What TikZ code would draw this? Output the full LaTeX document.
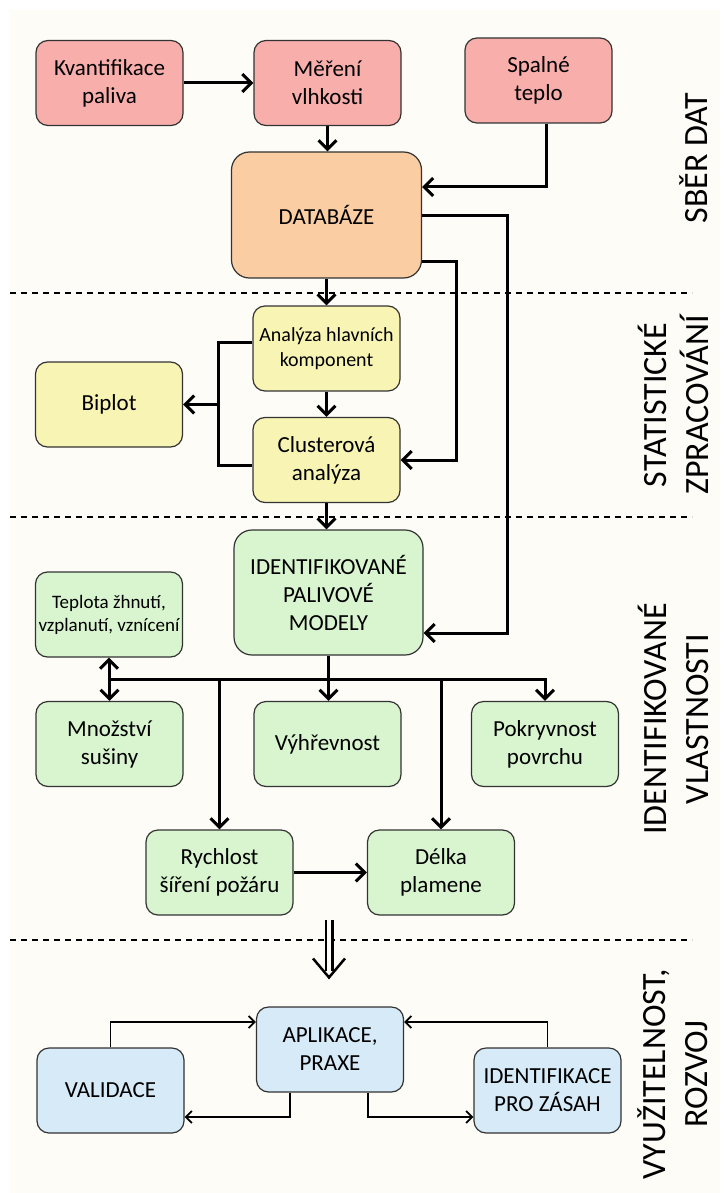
\documentclass[tikz,border=0pt]{standalone}
\usepackage{fontspec}
\setmainfont{Carlito}
\usepackage{tikz}
\usetikzlibrary{arrows.meta}
\usetikzlibrary{calc}
\definecolor{ruzova}{RGB}{248,175,172}
\definecolor{oranz}{RGB}{250,205,163}
\definecolor{zluta}{RGB}{248,245,180}
\definecolor{zelena}{RGB}{217,245,208}
\definecolor{modra}{RGB}{214,234,248}
\definecolor{podklad}{RGB}{253,252,246}

\begin{document}
\begin{tikzpicture}[x=1pt,y=-1pt,
  box/.style={draw=black!80, line width=1.2pt, rounded corners=12pt, minimum width=147pt, minimum height=85pt, align=center, inner sep=0pt, font=\fontsize{23}{28}\selectfont},
  velky/.style={box, minimum width=190pt, minimum height=126pt, rounded corners=18pt},
  spoj/.style={line width=3pt, -{Straight Barb[length=9pt,width=18pt]}},
  vedeni/.style={line width=3pt},
  tenky/.style={line width=1.8pt, -{Straight Barb[length=6pt,width=12pt]}},
  delic/.style={line width=2.5pt, dash pattern=on 6pt off 5pt},
  stitek/.style={rotate=90, align=center, font=\fontsize{34}{42}\selectfont}]
\useasboundingbox (0,0) rectangle (723,1193);
% podklad
\fill[podklad] (10,10) rectangle (720,1193);
\draw[delic] (10,293) -- (692,293);
\draw[delic] (10,517) -- (692,517);
\draw[delic] (10,940) -- (692,940);

% sber dat
\node[box, fill=ruzova] (kvant) at (109.5,83) {Kvantifikace\\paliva};
\node[box, fill=ruzova] (mereni) at (327.5,83) {Měření\\vlhkosti};
\node[box, fill=ruzova] (spalne) at (538.5,80.5) {Spalné\\teplo};
\node[velky, fill=oranz] (databaze) at (326.5,215) {DATABÁZE};
% statisticke zpracovani
\node[box, fill=zluta, font=\fontsize{20}{25}\selectfont] (analyza) at (326.5,348.5) {Analýza hlavních\\komponent};
\node[box, fill=zluta] (biplot) at (109,404.5) {Biplot};
\node[box, fill=zluta] (cluster) at (326.5,460) {Clusterová\\analýza};
% vlastnosti
\node[velky, fill=zelena, minimum width=189pt, minimum height=125pt] (modely) at (328.5,592.5) {IDENTIFIKOVANÉ\\PALIVOVÉ\\MODELY};
\node[box, fill=zelena, font=\fontsize{19}{23}\selectfont] (teplota) at (109,614.5) {Teplota žhnutí,\\vzplanutí, vznícení};
\node[box, fill=zelena] (mnozstvi) at (109.5,744) {Množství\\sušiny};
\node[box, fill=zelena] (vyhrevnost) at (327.5,744) {Výhřevnost};
\node[box, fill=zelena] (pokryvnost) at (545,744) {Pokryvnost\\povrchu};
\node[box, fill=zelena] (rychlost) at (219.5,872.5) {Rychlost\\šíření požáru};
\node[box, fill=zelena] (delka) at (441,872.5) {Délka\\plamene};
% vyuzitelnost
\node[box, fill=modra] (aplikace) at (330,1049.5) {APLIKACE,\\PRAXE};
\node[box, fill=modra] (validace) at (110.5,1090.5) {VALIDACE};
\node[box, fill=modra] (identifikace) at (547.5,1090.5) {IDENTIFIKACE\\PRO ZÁSAH};

% popisky vpravo
\node[stitek] (sber) at (694,158) {SBĚR DAT};
\node[stitek] (stat) at (673,405) {STATISTICKÉ\\ZPRACOVÁNÍ};
\node[stitek] (vlast) at (673,719) {IDENTIFIKOVANÉ\\VLASTNOSTI};
\node[stitek] (vyuz) at (673,1074) {VYUŽITELNOST,\\ROZVOJ};

% sipky
\draw[spoj] (kvant.east) -- (mereni.west);
\draw[spoj] (mereni.south) -- (mereni.south |- databaze.north);
\draw[spoj] ([xshift=7.5pt]spalne.south) |- ([yshift=28pt]databaze.east);
\draw[spoj] (databaze.east) -- ++(85,0) |- ([yshift=-40.5pt]modely.east);
\draw[spoj] ([yshift=-46pt]databaze.east) -- ++(34,0) |- (cluster.east);
\draw[spoj] (databaze.south) -- (databaze.south |- analyza.north);
\draw[spoj] (analyza.south) -- (cluster.north);
\draw[vedeni] ([yshift=6.5pt]analyza.west) -- ++(-34,0) coordinate (bx) |- ([yshift=-5pt]cluster.west);
\draw[spoj] (bx |- biplot.east) -- (biplot.east);
\draw[spoj] (cluster.south) -- (cluster.south |- modely.north);

\coordinate (bus) at (0,679);
\draw[spoj] (modely.south) -- (modely.south |- vyhrevnost.north);
\draw[spoj] (bus -| mnozstvi.north) -| (pokryvnost.north);
\draw[spoj] (bus -| teplota.south) -- (teplota.south);
\draw[spoj] (bus -| mnozstvi.north) -- (mnozstvi.north);
\draw[spoj] (bus -| rychlost.north) -- (rychlost.north);
\draw[spoj] (bus -| delka.north) -- (delka.north);
\draw[spoj] (rychlost.east) -- (delka.west);

\coordinate (dtop) at (329,920);
\draw[line width=2.5pt, double=podklad, double distance=4pt] (dtop) -- ([yshift=35pt]aplikace.north -| dtop);
\draw[line width=2.5pt, -{Straight Barb[length=19pt,width=32pt]}] ([yshift=30pt]aplikace.north -| dtop) -- ([yshift=27pt]aplikace.north -| dtop);

\draw[tenky] (validace.north) |- ([yshift=27.5pt]aplikace.west);
\draw[tenky] (identifikace.north) |- ([yshift=27.5pt]aplikace.east);
\draw[tenky] ([xshift=-40pt]aplikace.south) |- ([yshift=-26.5pt]validace.east);
\draw[tenky] ([xshift=38pt]aplikace.south) |- ([yshift=-26.5pt]identifikace.west);
\end{tikzpicture}
\end{document}
